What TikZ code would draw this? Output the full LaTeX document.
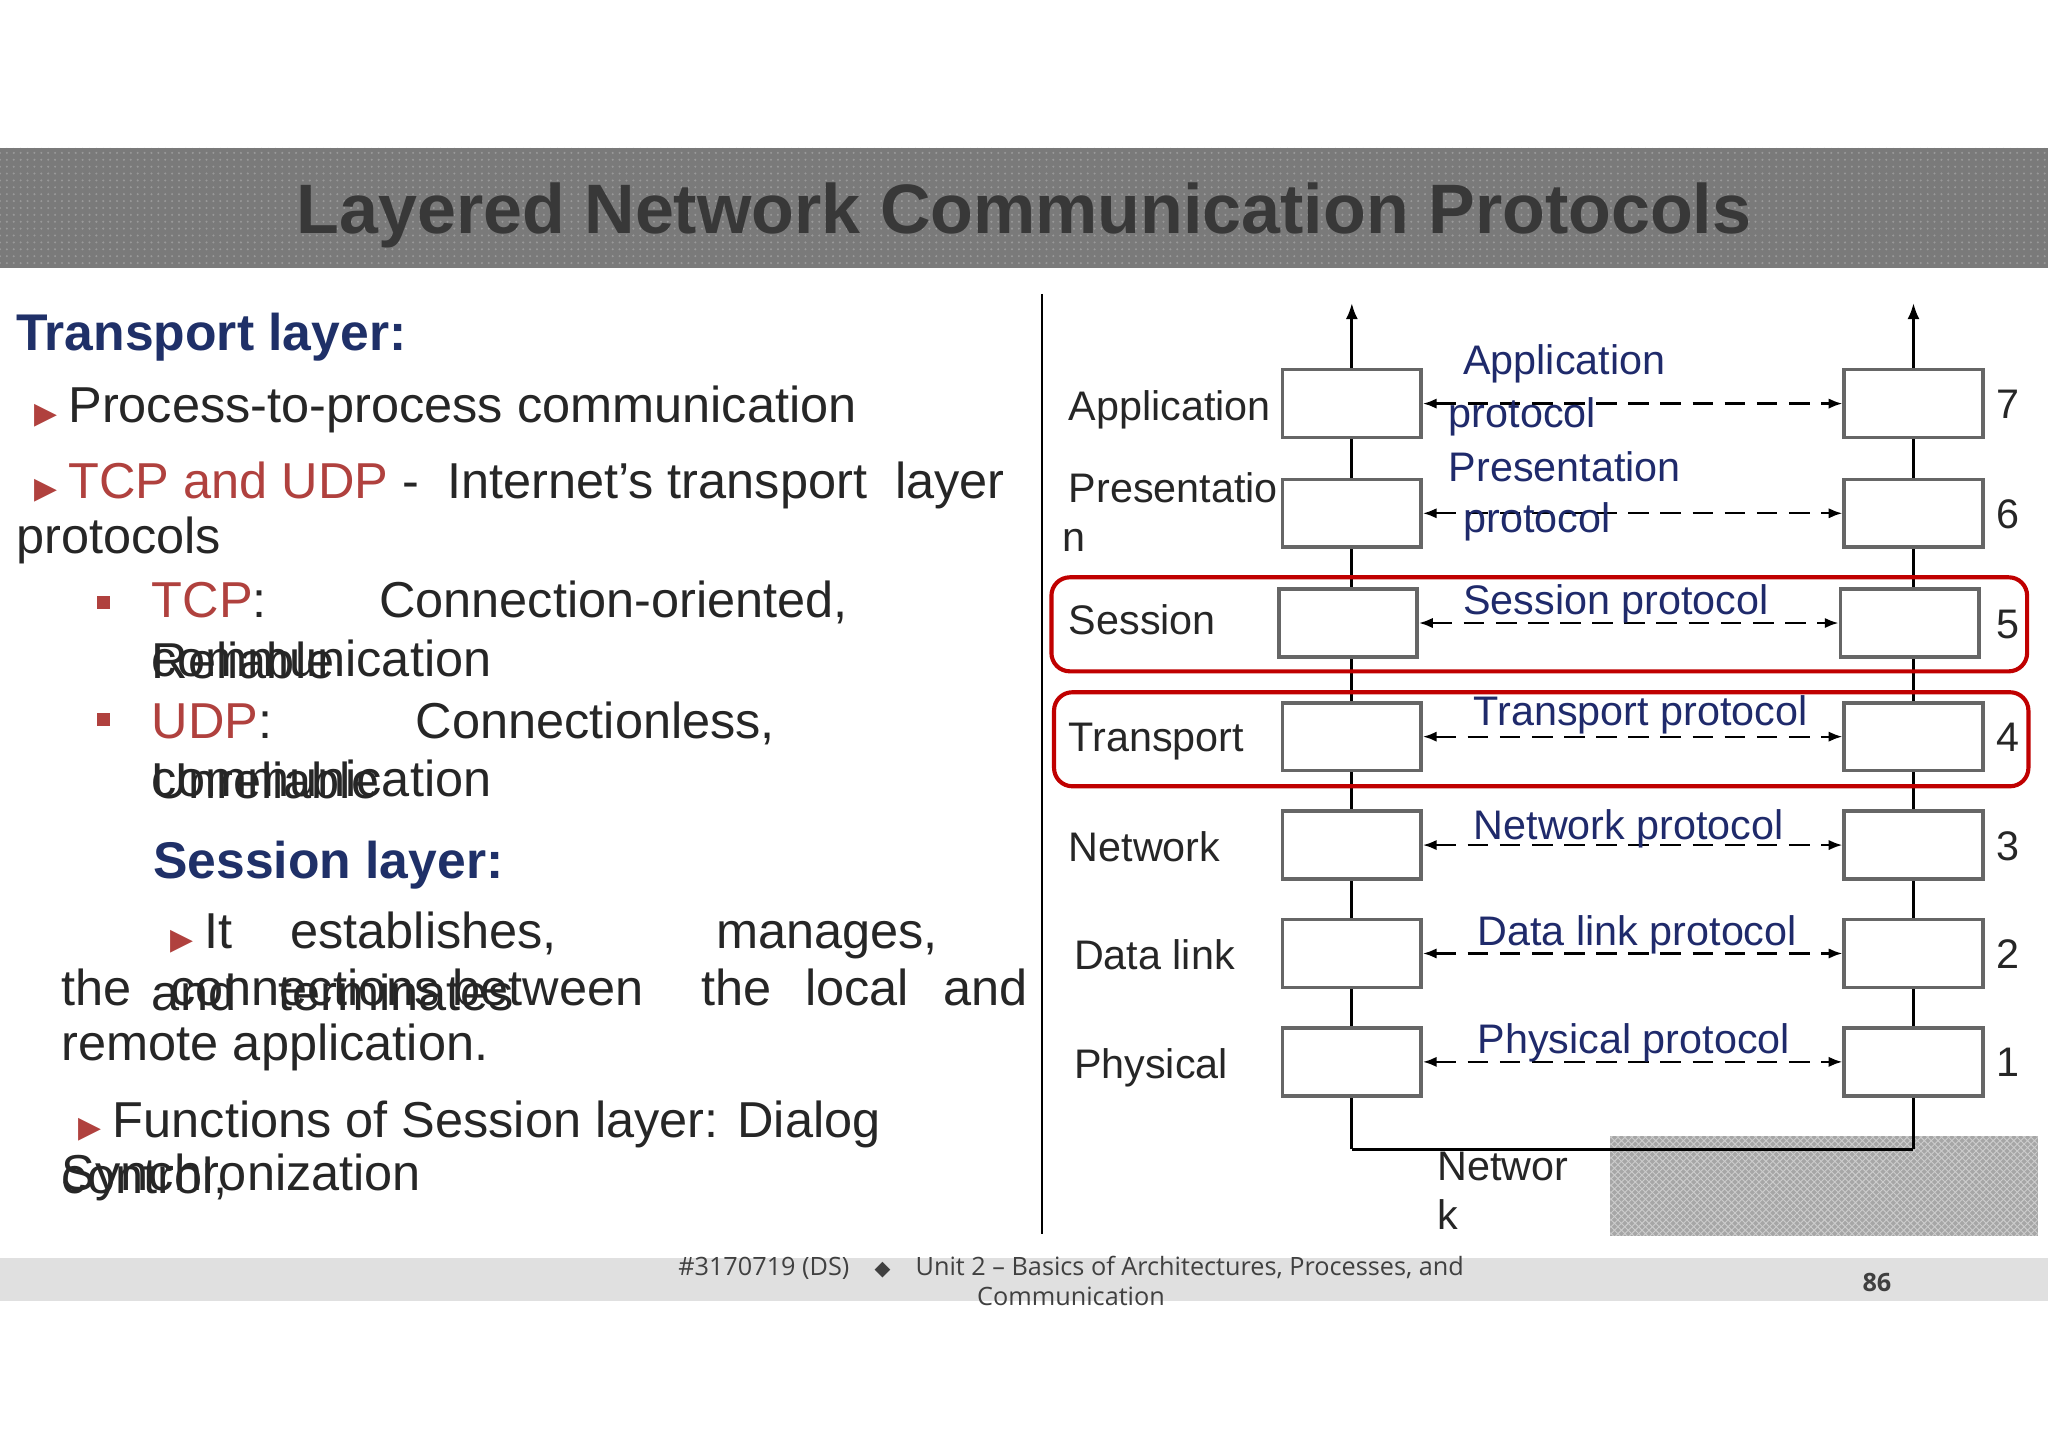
\documentclass[tikz,border=0pt]{standalone}
\usepackage{fontspec}
\setmainfont{Liberation Sans}
\newfontfamily\footfont{Open Sans}
\newfontfamily\symfont{DejaVu Sans}
\usetikzlibrary{patterns,arrows.meta}
\definecolor{navy}{HTML}{1F3068}
\definecolor{rbrown}{HTML}{B0413E}
\definecolor{lblue}{HTML}{1F2A6B}
\definecolor{bred}{HTML}{C00000}
\begin{document}
\begin{tikzpicture}[x=0.02cm,y=-0.02cm,
  txt/.style={anchor=west,inner sep=0,font=\fontsize{22}{25}\selectfont,text=black!85,text height=1.6ex,text depth=0.4ex},
  lay/.style={anchor=west,inner sep=0,font=\fontsize{18}{21}\selectfont,text=black!85,text height=1.6ex,text depth=0.4ex},
  prot/.style={anchor=west,inner sep=0,font=\fontsize{18}{21}\selectfont,text=lblue,text height=1.6ex,text depth=0.4ex},
  bx/.style={draw=black!60,line width=1.6pt,minimum width=2.12cm,minimum height=1.04cm,inner sep=0},
  dsh/.style={dash pattern=on 9pt off 5pt,line width=1pt,{Latex[length=6pt]}-{Latex[length=6pt]}},
  tri/.style={text=rbrown,inner sep=0,anchor=west,font=\symfont\fontsize{13}{13}\selectfont}]
\useasboundingbox (0,0) rectangle (1568,1108);
\fill[white] (0,0) rectangle (1568,1108);
% title bar
\fill[black!52] (0,113) rectangle (1568,205);
\fill[pattern=dots,pattern color=black!40] (0,113) rectangle (1568,205);
\node[font=\bfseries\fontsize{30.5}{34}\selectfont,text=black!78] (title) at (784,165) {Layered Network Communication Protocols};
% footer
\fill[black!12] (0,963) rectangle (1568,996);
\node[font=\footfont\fontsize{11}{13}\selectfont,text=black!75,align=center] (foot) at (820,981) {\#3170719 (DS)\quad{\symfont\small ◆}\quad Unit 2 – Basics of Architectures, Processes, and\\Communication};
\node[font=\footfont\bfseries\fontsize{11}{13}\selectfont,text=black!75] (pg) at (1437,982) {86};
% divider
\draw[line width=1pt] (798,225) -- (798,945);
% left text
\node[anchor=west,inner sep=0,font=\bfseries\fontsize{22.5}{26}\selectfont,text=navy] (tl) at (12,258) {Transport layer:};
\node[tri] (b1) at (26,318) {▶};
\node[txt] (t1) at (52,318) {Process-to-process communication};
\node[tri] (b2) at (26,376) {▶};
\node[txt] (t2) at (52,376) {\textcolor{rbrown}{TCP and UDP} -\ \ Internet's transport\ \ layer};
\node[txt] (t3) at (12,418) {protocols};
\fill[rbrown] (74,456) rectangle (84,466);
\node[txt] (t4) at (116,467) {\textcolor{rbrown}{TCP}:};
\node[txt] (t5) at (290,467) {Connection-oriented,};
\node[txt] (t6) at (116,514) {Reliable};
\node[txt] (t7) at (116,512) {communication};
\fill[rbrown] (74,546) rectangle (84,556);
\node[txt] (t8) at (116,560) {\textcolor{rbrown}{UDP}:};
\node[txt] (t9) at (318,560) {Connectionless,};
\node[txt] (t10) at (116,606) {Unreliable};
\node[txt] (t11) at (116,604) {communication};
\node[anchor=west,inner sep=0,font=\bfseries\fontsize{22.5}{26}\selectfont,text=navy] (sl) at (117,662) {Session layer:};
\node[tri] (b3) at (130,721) {▶};
\node[txt] (t12) at (156,721) {It};
\node[txt] (t13) at (222,721) {establishes,};
\node[txt] (t14) at (548,721) {manages,};
\node[txt] (t15) at (47,764) {the};
\node[txt] (t16) at (130,764) {connections};
\node[txt] (t17) at (346,764) {between};
\node[txt] (t18) at (537,764) {the};
\node[txt] (t19) at (616,764) {local};
\node[txt] (t20) at (722,764) {and};
\node[txt] (t21) at (116,768) {and\ \ \ terminates};
\node[txt] (t22) at (47,806) {remote application.};
\node[tri] (b4) at (60,865) {▶};
\node[txt] (t23) at (86,865) {Functions of Session layer: Dialog};
\node[txt] (t24) at (47,908) {control,};
\node[txt] (t25) at (47,906) {Synchronization};
% diagram
\fill[black!35] (1233,870) rectangle (1560,946);
\fill[pattern=crosshatch,pattern color=black!20] (1233,870) rectangle (1560,946);
\coordinate (ltop) at (1035,232);
\coordinate (rtop) at (1465,232);
\coordinate (lbot) at (1035,880);
\coordinate (rbot) at (1465,880);
\draw[line width=1.2pt,-{Latex[length=7pt]}] (lbot) -- (ltop);
\draw[line width=1.2pt,-{Latex[length=7pt]}] (rbot) -- (rtop);
\draw[line width=1.2pt] (lbot) -- (rbot);
\foreach \n/\y/\dx in {7/309/0,6/393/0,5/477/-3,4/564/0,3/647/0,2/730/0,1/813/0}{
  \node[bx,fill=white] (L\n) at (1035+\dx,\y) {};
  \node[bx,fill=white] (R\n) at (1465+\dx,\y) {};
  \draw[dsh] (L\n) -- (R\n);
  \node[lay] (N\n) at (1528,\y+6) {\n};
}
\node[lay] (a7) at (818,316) {Application};
\node[lay] (a6) at (818,379) {Presentatio};
\node[lay] (a6b) at (813,417) {n};
\node[lay] (a5) at (818,480) {Session};
\node[lay] (a4) at (818,570) {Transport};
\node[lay] (a3) at (818,654) {Network};
\node[lay] (a2) at (822,737) {Data link};
\node[lay] (a1) at (822,820) {Physical};
\node[prot] (p7) at (1120,281) {Application};
\node[prot] (p7b) at (1109,322) {protocol};
\node[prot] (p6) at (1109,363) {Presentation};
\node[prot] (p6b) at (1120,402) {protocol};
\node[prot] (p5) at (1120,465) {Session protocol};
\node[prot] (p4) at (1128,550) {Transport protocol};
\node[prot] (p3) at (1128,637) {Network protocol};
\node[prot] (p2) at (1131,718) {Data link protocol};
\node[prot] (p1) at (1131,801) {Physical protocol};
\node[lay] (nw) at (1100,898) {Networ};
\node[lay] (nwb) at (1100,936) {k};
\draw[bred,line width=1.8pt,rounded corners=8pt] (805,442) rectangle (1552,514);
\draw[bred,line width=1.8pt,rounded corners=8pt] (807,530) rectangle (1553,602);
\end{tikzpicture}
\end{document}
